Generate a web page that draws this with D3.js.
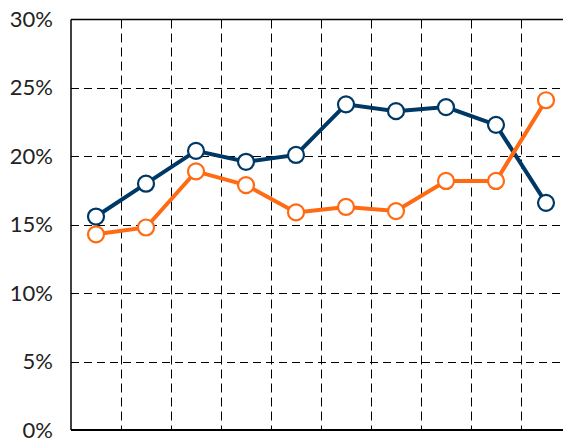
<!DOCTYPE html>
<html>
<head>
<meta charset="utf-8">
<script src="https://cdn.jsdelivr.net/npm/d3@7"></script>
<style>
  body { margin: 0; background: #fff; }
</style>
</head>
<body>
<div id="chart"></div>
<script>
// Data
const categories = ["1", "2", "3", "4", "5", "6", "7", "8", "9", "10"];
const seriesBlue = [15.6, 18.0, 20.4, 19.6, 20.1, 23.8, 23.3, 23.6, 22.3, 16.6];
const seriesOrange = [14.3, 14.8, 18.9, 17.9, 15.9, 16.3, 16.0, 18.2, 18.2, 24.1];
const yTicks = [0, 5, 10, 15, 20, 25, 30];

const width = 563, height = 439;
const margin = { top: 19.5, left: 71, bottom: 9 };

const svg = d3.select("#chart")
  .append("svg")
  .attr("width", width)
  .attr("height", height);

// Scales
const x = d3.scaleBand()
  .domain(categories)
  .range([margin.left, margin.left + 50 * categories.length]);

const y = d3.scaleLinear()
  .domain([0, 30])
  .range([height - margin.bottom, margin.top]);

// Horizontal dashed grid
svg.append("g")
  .selectAll("line")
  .data(yTicks.slice(1, -1))
  .enter()
  .append("line")
  .attr("x1", margin.left)
  .attr("x2", width)
  .attr("y1", d => Math.round(y(d)) + 0.5)
  .attr("y2", d => Math.round(y(d)) + 0.5)
  .attr("stroke", "#000")
  .attr("stroke-width", 1)
  .attr("stroke-dasharray", "8,5");

// Vertical dashed grid between categories
svg.append("g")
  .selectAll("line")
  .data(categories.slice(1))
  .enter()
  .append("line")
  .attr("x1", d => Math.round(x(d)) + 0.5)
  .attr("x2", d => Math.round(x(d)) + 0.5)
  .attr("y1", y(30))
  .attr("y2", y(0))
  .attr("stroke", "#000")
  .attr("stroke-width", 1)
  .attr("stroke-dasharray", "9,5");

// Frame: top, left and bottom solid lines
svg.append("line")
  .attr("x1", margin.left).attr("x2", width)
  .attr("y1", y(30)).attr("y2", y(30))
  .attr("stroke", "#000").attr("stroke-width", 1.5);
svg.append("line")
  .attr("x1", margin.left).attr("x2", width)
  .attr("y1", y(0)).attr("y2", y(0))
  .attr("stroke", "#000").attr("stroke-width", 2);
svg.append("line")
  .attr("x1", margin.left).attr("x2", margin.left)
  .attr("y1", y(30)).attr("y2", y(0))
  .attr("stroke", "#000").attr("stroke-width", 1.5);

// Y axis labels
const yAxis = d3.axisLeft(y)
  .tickValues(yTicks)
  .tickSize(0)
  .tickPadding(18)
  .tickFormat(d => d + "%");

svg.append("g")
  .attr("transform", `translate(${margin.left},0)`)
  .call(yAxis)
  .call(g => g.select(".domain").remove())
  .selectAll("text")
  .attr("font-family", "Lato, sans-serif")
  .attr("font-size", 22)
  .attr("fill", "#222");

// Lines and markers
const cx = d => x(d) + x.bandwidth() / 2;
const line = d3.line()
  .x((d, i) => cx(categories[i]))
  .y(d => y(d));

function drawSeries(values, color) {
  svg.append("path")
    .datum(values)
    .attr("d", line)
    .attr("fill", "none")
    .attr("stroke", color)
    .attr("stroke-width", 4);

  svg.append("g")
    .selectAll("circle")
    .data(values)
    .enter()
    .append("circle")
    .attr("cx", (d, i) => cx(categories[i]))
    .attr("cy", d => y(d))
    .attr("r", 8)
    .attr("fill", "#fff")
    .attr("stroke", color)
    .attr("stroke-width", 2.2);
}

drawSeries(seriesBlue, "#003865");
drawSeries(seriesOrange, "#ff6a13");
</script>
</body>
</html>
